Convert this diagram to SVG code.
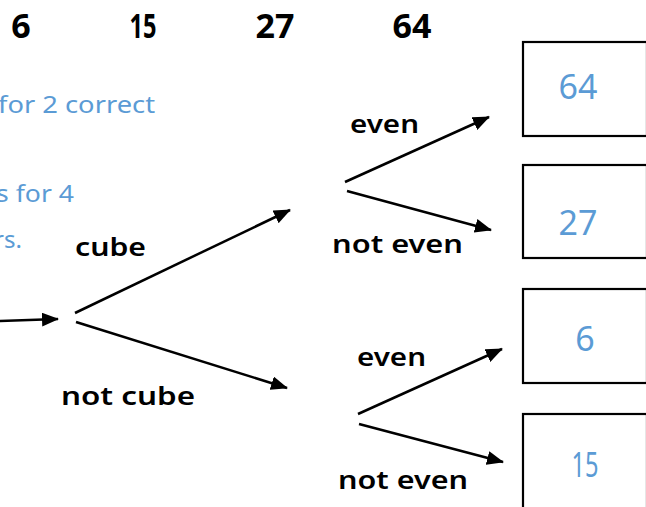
<svg xmlns="http://www.w3.org/2000/svg" width="646" height="507" viewBox="0 0 646 507">
<style>
.num{font-family:"Noto Sans","Liberation Sans",sans-serif;font-size:34px;font-weight:bold;fill:#000;text-anchor:middle}
.lbl{font-family:"Noto Sans","Liberation Sans",sans-serif;font-size:25px;font-weight:600;fill:#000}
.note{font-family:"Noto Sans","Liberation Sans",sans-serif;font-size:24px;fill:#5b9bd5}
.val{font-family:"Noto Sans","Liberation Sans",sans-serif;font-size:34px;fill:#5b9bd5;text-anchor:middle}
.box{fill:#fff;stroke:#000;stroke-width:2.2}
.arr{stroke:#000;stroke-width:2.5;fill:none;marker-end:url(#ah)}
</style>
<defs>
<marker id="ah" markerUnits="userSpaceOnUse" markerWidth="17" markerHeight="14" refX="16" refY="7" orient="auto">
<path d="M0,0 L17,7 L0,14 z" fill="#000"/>
</marker>
</defs>
<rect width="646" height="507" fill="#fff"/>
<g id="top-numbers">
<text class="num" x="21" y="38">6</text>
<text class="num" x="143" y="38" textLength="27" lengthAdjust="spacingAndGlyphs">15</text>
<text class="num" x="275" y="38">27</text>
<text class="num" x="412" y="38">64</text>
</g>
<g id="notes">
<text class="note" x="-2" y="113" textLength="157" lengthAdjust="spacingAndGlyphs">for 2 correct</text>
<text class="note" x="-4" y="202" textLength="78" lengthAdjust="spacingAndGlyphs">s for 4</text>
<text class="note" x="-6" y="248" textLength="28" lengthAdjust="spacingAndGlyphs">rs.</text>
</g>
<g id="connectors">
<line class="arr" x1="0" y1="321" x2="58" y2="319"/>
<line class="arr" x1="75" y1="313" x2="290" y2="210"/>
<line class="arr" x1="76" y1="322" x2="287" y2="388"/>
<line class="arr" x1="345" y1="182" x2="489" y2="117"/>
<line class="arr" x1="347" y1="191" x2="491" y2="230"/>
<line class="arr" x1="358" y1="414" x2="502" y2="349"/>
<line class="arr" x1="359" y1="424" x2="503" y2="462"/>
</g>
<g id="labels">
<text class="lbl" x="75" y="256" textLength="71" lengthAdjust="spacingAndGlyphs">cube</text>
<text class="lbl" x="61" y="405" textLength="134" lengthAdjust="spacingAndGlyphs">not cube</text>
<text class="lbl" x="350" y="133" textLength="69" lengthAdjust="spacingAndGlyphs">even</text>
<text class="lbl" x="332" y="253" textLength="131" lengthAdjust="spacingAndGlyphs">not even</text>
<text class="lbl" x="357" y="366" textLength="69" lengthAdjust="spacingAndGlyphs">even</text>
<text class="lbl" x="338" y="489" textLength="130" lengthAdjust="spacingAndGlyphs">not even</text>
</g>
<g id="box-64">
<rect class="box" x="523" y="42" width="124" height="94"/>
<text class="val" x="578" y="99">64</text>
</g>
<g id="box-27">
<rect class="box" x="523" y="165" width="124" height="93"/>
<text class="val" x="578" y="235">27</text>
</g>
<g id="box-6">
<rect class="box" x="523" y="289" width="124" height="94"/>
<text class="val" x="585" y="351">6</text>
</g>
<g id="box-15">
<rect class="box" x="523" y="414" width="124" height="100"/>
<text class="val" x="585" y="477" textLength="27" lengthAdjust="spacingAndGlyphs">15</text>
</g>
</svg>
